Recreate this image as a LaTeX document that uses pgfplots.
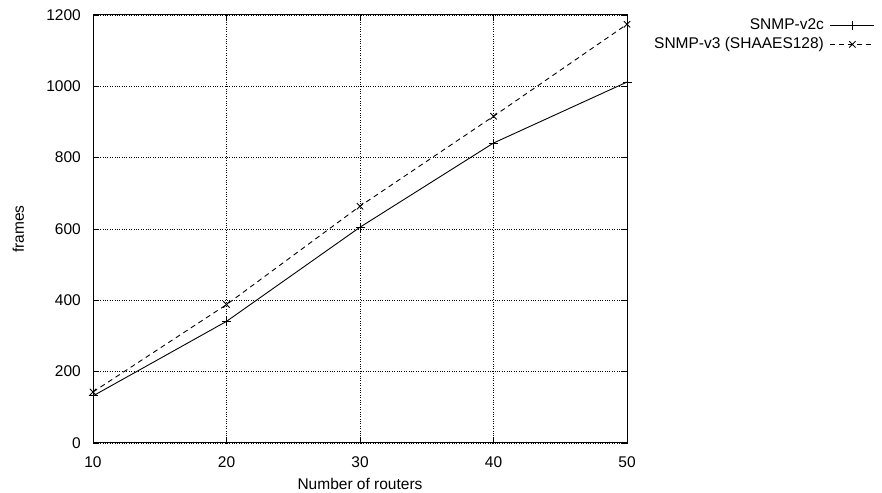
\documentclass[border=0pt]{standalone}
\usepackage{pgfplots}
\pgfplotsset{compat=1.18}
\usepackage{fontspec}
\setmainfont{Liberation Sans}
\begin{document}
\begin{tikzpicture}[x=1bp,y=1bp]
\path[use as bounding box] (0,0) rectangle (882,493);
\begin{axis}[
  at={(93bp,50bp)}, anchor=south west,
  scale only axis, width=534bp, height=428bp,
  xmin=10, xmax=50, ymin=0, ymax=1200,
  xtick={10,20,30,40,50}, ytick={0,200,400,600,800,1000,1200},
  grid=major, grid style={dotted, black, line width=0.6bp},
  axis line style={line width=1bp},
  tick style={black, line width=0.8bp},
  tick align=inside, major tick length=6bp,
  font=\fontsize{15.5bp}{18bp}\selectfont,
  /pgf/number format/assume math mode=true,
  /pgf/number format/1000 sep={},
  tick label style={inner sep=0bp},
  yticklabel style={xshift=-12bp},
  xticklabel style={yshift=-13.5bp},
  xlabel={Number of routers},
  ylabel={frames},
  xlabel style={at={(axis description cs:0.5,-0.0958)}, anchor=center},
  ylabel style={at={(axis description cs:-0.140,0.5)}, anchor=center, rotate=0},
  legend plot pos=right,
  legend cell align=right,
  legend image code/.code={\draw[mark repeat=2,mark phase=2,#1] plot coordinates {(0bp,0bp) (22bp,0bp) (44bp,0bp)};},
  legend style={at={(rel axis cs:1.470,0.997)}, anchor=north east,
    draw=none, fill=none, row sep=5bp, column sep=6bp,
    nodes={inner sep=0bp, text height=11bp, text depth=3bp}},
]
\addplot[black, line width=0.9bp, mark=+, mark size=4.5bp] coordinates {
  (10,132) (20,341) (30,605) (40,841) (50,1012)
};
\addlegendentry{SNMP-v2c}
\addplot[black, line width=0.9bp, dash pattern=on 5bp off 4bp, mark=x, mark size=4.5bp, mark options={solid}] coordinates {
  (10,143) (20,388) (30,664) (40,916) (50,1174)
};
\addlegendentry{SNMP-v3 (SHAAES128)}
\end{axis}
\end{tikzpicture}
\end{document}
